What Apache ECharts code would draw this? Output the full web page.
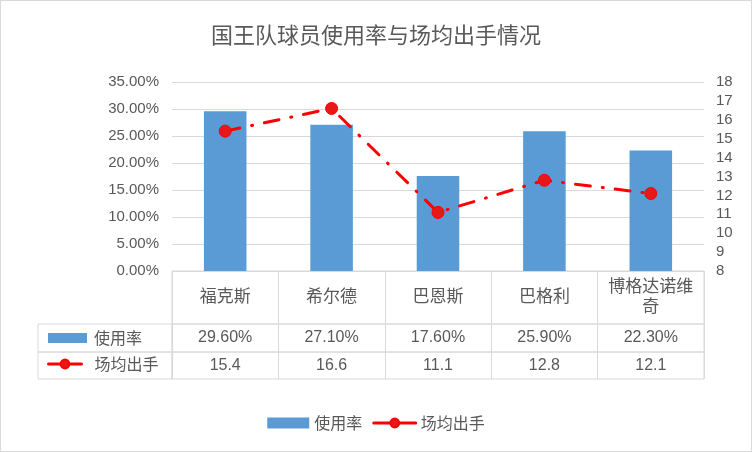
<!DOCTYPE html>
<html><head><meta charset="utf-8">
<script src="https://cdn.jsdelivr.net/npm/echarts@6/dist/echarts.min.js"></script>
<style>
html,body{margin:0;padding:0;background:#fff;}
#c{width:752px;height:452px;box-sizing:border-box;border:1px solid #d9d9d9;}
</style></head>
<body><div id="c"></div>
<script>
var title = '国王队球员使用率与场均出手情况';
var categories = ['福克斯', '希尔德', '巴恩斯', '巴格利', '博格达诺维奇'];
var usageName = '使用率';
var usage = [29.6, 27.1, 17.6, 25.9, 22.3];
var shotsName = '场均出手';
var shots = [15.4, 16.6, 11.1, 12.8, 12.1];

var TXT = '#595959', GRID = '#d9d9d9', BAR = '#5b9bd5', RED = '#ff0000';
var FONT = "'Liberation Sans','Noto Sans CJK SC',sans-serif";
var CJK = "'Noto Sans CJK SC',sans-serif";

var L = 171, R = 47;
var chart = echarts.init(document.getElementById('c'));

function hiddenY(g){ return {type:'value', gridIndex:g, show:false, min:0, max:1}; }
function rowX(g, data, h, fs){
  return {type:'category', gridIndex:g, data:data, position:'bottom',
    axisLine:{show:false}, axisTick:{show:false},
    splitLine:{show:true, interval:0, lineStyle:{color:GRID, width:1}},
    axisLabel:{inside:true, interval:0, margin:h/2, verticalAlign:'middle', color:TXT,
      fontSize:fs, fontFamily:FONT, width:96, overflow:'break', lineHeight:20}};
}
var legLine = {type:'solid', width:3};

chart.setOption({
  animation:false,
  title:{text:title, left:'center', top:18, textStyle:{color:TXT, fontSize:22, fontWeight:'normal', fontFamily:CJK}},
  legend:[
    {data:[{name:usageName, icon:'rect'}, shotsName], bottom:15, left:'center', itemWidth:42, itemHeight:11, itemGap:10,
      lineStyle:legLine, textStyle:{color:TXT, fontSize:16, fontFamily:CJK}},
    {data:[{name:usageName, icon:'rect'}], left:42, top:324, itemWidth:39, itemHeight:10,
      textStyle:{color:TXT, fontSize:16, fontFamily:CJK, padding:[0,0,0,2]}},
    {data:[shotsName], left:41, top:350, itemWidth:33, itemHeight:11, lineStyle:legLine,
      textStyle:{color:TXT, fontSize:16, fontFamily:CJK, padding:[0,0,0,8]}}
  ],
  grid:[
    {left:L, right:R, top:81, height:189},
    {left:L, right:R, top:270, height:53, show:true, borderColor:GRID, borderWidth:1},
    {left:L, right:R, top:323, height:28, show:true, borderColor:GRID, borderWidth:1},
    {left:L, right:R, top:351, height:27, show:true, borderColor:GRID, borderWidth:1},
    {left:37, width:134, top:323, height:28, show:true, borderColor:GRID, borderWidth:1},
    {left:37, width:134, top:351, height:27, show:true, borderColor:GRID, borderWidth:1}
  ],
  xAxis:[
    {type:'category', gridIndex:0, data:categories, axisLine:{show:false}, axisTick:{show:false}, axisLabel:{show:false}},
    rowX(1, categories, 53, 17),
    rowX(2, usage.map(function(v){return v.toFixed(2)+'%';}), 28, 16),
    rowX(3, shots.map(function(v){return v.toFixed(1);}), 27, 16),
    {type:'category', gridIndex:4, data:[''], show:false},
    {type:'category', gridIndex:5, data:[''], show:false}
  ],
  yAxis:[
    {type:'value', gridIndex:0, min:0, max:35, interval:5, position:'left',
      axisLine:{show:false}, axisTick:{show:false},
      splitLine:{show:true, lineStyle:{color:GRID, width:1}},
      axisLabel:{margin:13, color:TXT, fontSize:15, fontFamily:FONT, formatter:function(v){return v.toFixed(2)+'%';}}},
    {type:'value', gridIndex:0, min:8, max:18, interval:1, position:'right',
      axisLine:{show:false}, axisTick:{show:false}, splitLine:{show:false},
      axisLabel:{margin:12, color:TXT, fontSize:15, fontFamily:FONT}},
    hiddenY(1), hiddenY(2), hiddenY(3), hiddenY(4), hiddenY(5)
  ],
  series:[
    {name:usageName, type:'bar', xAxisIndex:0, yAxisIndex:0, data:usage, barWidth:'40%',
      itemStyle:{color:BAR}},
    {name:shotsName, type:'line', xAxisIndex:0, yAxisIndex:1, data:shots,
      symbol:'circle', symbolSize:12,
      lineStyle:{color:RED, width:3, type:[15,12,1,12], cap:'round'},
      itemStyle:{color:'#e81818', borderColor:RED, borderWidth:1}}
  ]
});
</script></body></html>
